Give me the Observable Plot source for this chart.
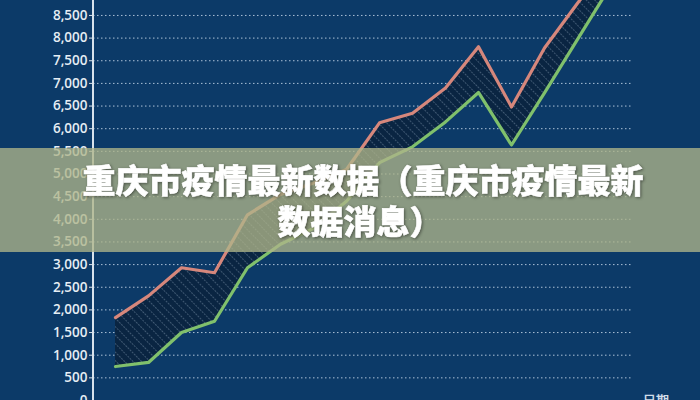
<!DOCTYPE html>
<html>
<head>
<meta charset="utf-8">
<script src="https://cdn.jsdelivr.net/npm/d3@7"></script>
<script src="https://cdn.jsdelivr.net/npm/@observablehq/plot@0.6"></script>
<style>
  html, body { margin: 0; padding: 0; background: #0c3a68; }
  #wrap { position: relative; width: 700px; height: 400px; overflow: hidden; background: #0c3a68; }
</style>
</head>
<body>
<div id="wrap"></div>
<script>
const dates = ["1日","2日","3日","4日","5日","6日","7日","8日","9日","10日","11日","12日","13日","14日","15日","16日"];
const upper = [1830, 2310, 2930, 2820, 4100, 4550, 4800, 5100, 6130, 6340, 6900, 7810, 6480, 7780, 8770, 9700];
const lower = [750, 840, 1500, 1750, 2930, 3450, 3800, 4400, 5250, 5600, 6150, 6800, 5640, 6790, 7970, 9150];
const yTicks = d3.range(0, 8501, 500);
const titleLine1 = "重庆市疫情最新数据（重庆市疫情最新";
const titleLine2 = "数据消息）";
const xLabel = "日期";

const rows = dates.map((d, i) => ({date: d, upper: upper[i], lower: lower[i]}));

const defsMark = () => {
  const g = d3.create("svg:g");
  const p = g.append("defs").append("pattern")
    .attr("id", "hatch").attr("patternUnits", "userSpaceOnUse")
    .attr("width", 6).attr("height", 6)
    .attr("patternTransform", "rotate(-45)");
  p.append("rect").attr("width", 6).attr("height", 6).attr("fill", "#0a2542");
  p.append("line").attr("x1", 0).attr("y1", 0).attr("x2", 0).attr("y2", 6)
    .attr("stroke", "#b8cce0").attr("stroke-opacity", 0.6)
    .attr("stroke-width", 1).attr("stroke-dasharray", "2,1");
  return g.node();
};

const axisLine = (index, scales, values, dims) => {
  return d3.create("svg:line")
    .attr("x1", dims.marginLeft).attr("x2", dims.marginLeft)
    .attr("y1", 0).attr("y2", dims.height)
    .attr("stroke", "#d8e2ec").attr("stroke-width", 2).node();
};

const bannerMark = (index, scales, values, dims) => {
  const g = d3.create("svg:g");
  g.append("rect").attr("x", 0).attr("y", 148).attr("width", dims.width).attr("height", 104)
    .attr("fill", "rgb(174,181,137)").attr("fill-opacity", 0.78);
  const t = g.append("g")
    .attr("font-family", "'Noto Sans CJK SC', sans-serif")
    .attr("font-weight", 900).attr("font-size", 33)
    .attr("fill", "#ffffff").attr("text-anchor", "middle")
    .attr("stroke", "#ffffff").attr("stroke-width", 0.6)
    .style("filter", "drop-shadow(1px 1px 1.5px rgba(0,0,0,0.45))");
  t.append("text").attr("x", 363).attr("y", 181).attr("dy", "0.35em").text(titleLine1);
  t.append("text").attr("x", 360).attr("y", 222).attr("dy", "0.35em").text(titleLine2);
  return g.node();
};

const chart = Plot.plot({
  width: 700,
  height: 400,
  marginTop: 0,
  marginBottom: 0,
  marginLeft: 93,
  marginRight: 68,
  style: {background: "#0c3a68", fontFamily: "'Open Sans', sans-serif", overflow: "hidden"},
  x: {type: "point", domain: dates, padding: 0.5, axis: null},
  y: {domain: [0, 8830], ticks: yTicks, tickFormat: d3.format(","), label: null},
  marks: [
    defsMark,
    Plot.gridY(yTicks, {stroke: "#c8d8ea", strokeOpacity: 0.85, strokeDasharray: "1.5,2.5", strokeWidth: 1}),
    Plot.areaY(rows, {x: "date", y1: "lower", y2: "upper", fill: "url(#hatch)", clip: true}),
    Plot.lineY(rows, {x: "date", y: "upper", stroke: "#d6877c", strokeWidth: 3.2, clip: true}),
    Plot.lineY(rows, {x: "date", y: "lower", stroke: "#80c06c", strokeWidth: 3.2, clip: true}),
    Plot.axisY(yTicks, {tickFormat: d3.format(","), tickSize: 4, tickPadding: 2, stroke: "#d8e2ec",
      fill: "#e6edf4", fontSize: 13.5, fontWeight: 600, label: null}),
    axisLine,
    Plot.text([xLabel], {frameAnchor: "bottom-right", dx: 23, dy: -5, lineAnchor: "top",
      textAnchor: "middle", fill: "#d0dce8", fontSize: 13, fontWeight: 600}),
    bannerMark
  ]
});

document.getElementById("wrap").appendChild(chart);
</script>
</body>
</html>
